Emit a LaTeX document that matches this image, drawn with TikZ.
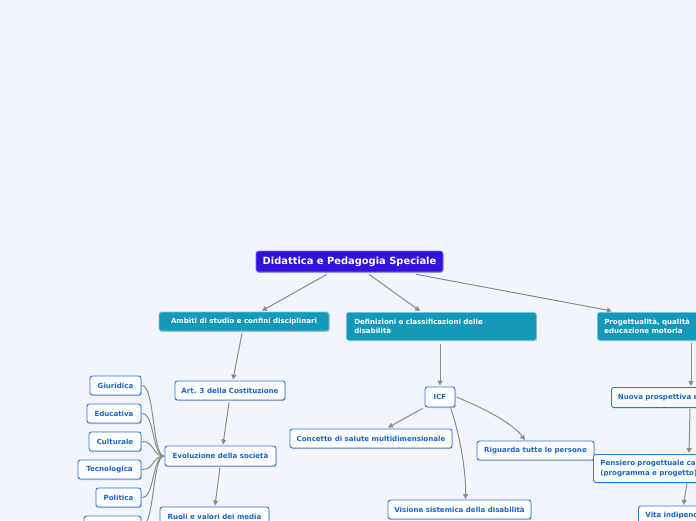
\documentclass[tikz,border=0pt]{standalone}
\usepackage{fontspec}
\setmainfont{DejaVu Sans}
\usetikzlibrary{arrows.meta,shadows,calc}
\definecolor{bgc}{HTML}{F3F5FD}
\definecolor{rootc}{HTML}{3411DC}
\definecolor{tealc}{HTML}{1499BA}
\definecolor{nbord}{HTML}{2479DE}
\definecolor{ntext}{HTML}{1666CF}
\definecolor{lnc}{HTML}{8C8C8C}
\begin{document}
\begin{tikzpicture}[x=1pt,y=-1pt,
  base/.style={rounded corners=2.5pt, inner sep=0pt,
    font=\bfseries\fontsize{7.05}{9.3}\selectfont,
    drop shadow={shadow xshift=0.6pt, shadow yshift=-1pt, opacity=0.22, fill=black}},
  leaf/.style={base, draw=nbord, line width=0.9pt, fill=white, text=ntext},
  topic/.style={base, draw=tealc!55!white, line width=0.6pt, fill=tealc, text=white},
  rootbox/.style={base, draw=rootc!60!white, line width=0.6pt, fill=rootc, text=white,
    font=\bfseries\fontsize{9.9}{11}\selectfont},
  conn/.style={draw=lnc, line width=1pt, -{Triangle[length=5pt,width=5pt]}},
  link/.style={draw=lnc, line width=1pt}
]
\fill[bgc] (0,0) rectangle (696,520);
\useasboundingbox (0,0) rectangle (696,520);

% root and topics
\node[rootbox, minimum width=187pt, minimum height=21pt] (root) at (349.5,261.5) {Didattica e Pedagogia Speciale};
\node[topic, minimum width=170pt, minimum height=19pt] (amb) at (244,321.5) {Ambiti di studio e confini disciplinari};
\node[topic, anchor=north west, minimum height=28pt, inner xsep=8pt, text width=174pt, align=left] (def) at (346,312) {Definizioni e classificazioni delle\\disabilità};
\node[topic, anchor=north west, minimum height=28pt, inner xsep=7pt, text width=190pt, align=left] (prog) at (597,312) {Progettualità, qualità\\educazione motoria};

% left branch
\node[leaf, minimum width=110pt, minimum height=19pt] (art) at (230,390.5) {Art. 3 della Costituzione};
\node[leaf, minimum width=111pt, minimum height=20pt] (evol) at (220.5,456) {Evoluzione della società};
\node[leaf, minimum width=109pt, minimum height=20pt] (ruoli) at (214.5,517) {Ruoli e valori dei media};
\node[leaf, minimum width=51pt, minimum height=19pt] (giur) at (115.5,385.5) {Giuridica};
\node[leaf, minimum width=54pt, minimum height=19pt] (educ) at (114,413.5) {Educativa};
\node[leaf, minimum width=52pt, minimum height=19pt] (cult) at (115,441.5) {Culturale};
\node[leaf, minimum width=63pt, minimum height=19pt] (tecn) at (109.5,469.5) {Tecnologica};
\node[leaf, minimum width=45pt, minimum height=19pt] (polit) at (118.5,497.5) {Politica};
\node[leaf, minimum width=57pt, minimum height=19pt] (sixth) at (112.5,525.5) {};

% middle branch
\node[leaf, minimum width=30pt, minimum height=20pt] (icf) at (440,397) {ICF};
\node[leaf, minimum width=162pt, minimum height=19pt] (conc) at (371,438.5) {Concetto di salute multidimensionale};
\node[leaf, minimum width=117pt, minimum height=19pt] (rig) at (535.5,450.5) {Riguarda tutte le persone};
\node[leaf, minimum width=143pt, minimum height=19pt] (vis) at (459.5,509.5) {Visione sistemica della disabilità};

% right branch
\node[leaf, anchor=north west, minimum height=20pt, inner xsep=6.5pt, text width=180pt, align=left] (nuova) at (611,387) {Nuova prospettiva e};
\node[leaf, anchor=north west, minimum height=28pt, inner xsep=7pt, text width=180pt, align=left] (pens) at (593,454) {Pensiero progettuale ca\\(programma e progetto)};
\node[leaf, anchor=north west, minimum height=20pt, inner xsep=7pt, text width=180pt, align=left] (vita) at (638,505.5) {Vita indipend};

% connectors
\draw[conn] ($(root.south)+(-22.5,2)$) -- ($(amb.north)+(18,-1)$);
\draw[conn] ($(root.south)+(19.5,2)$) -- ($(def.north west)+(74,-1)$);
\draw[conn] ($(root.south)+(66.5,2)$) -- ($(prog.north west)+(15,-1)$);
\draw[conn] ($(amb.south)+(-2,2)$) -- ($(art.north)+(3,-1)$);
\draw[conn] ($(art.south)+(-1,2)$) -- ($(evol.north)+(2.5,-1)$);
\draw[conn] ($(evol.south)+(-0.5,1)$) -- ($(ruoli.north)+(0.5,-1)$);
\draw[conn] ($(def.south west)+(94,3)$) -- ($(icf.north)+(0,-1)$);
\draw[conn] ($(icf.south west)+(-2,1)$) -- ($(conc.north)+(17,-1)$);
\draw[conn] ($(icf.east)+(1,0)$) .. controls (488,410) and (513,424) .. ($(rig.north)+(-10.5,-0.5)$);
\draw[conn] ($(icf.south)+(10.7,1)$) .. controls (459,432) and (466,468) .. ($(vis.north)+(6,-0.5)$);
\draw[conn] ($(prog.south west)+(94,2)$) -- ($(nuova.north west)+(80,-1)$);
\draw[conn] ($(nuova.south west)+(79,1)$) -- ($(pens.north west)+(96,-1)$);
\draw[conn] ($(pens.south west)+(94,0.5)$) -- ($(vita.north west)+(45.5,-0.5)$);

\foreach \n in {giur,educ,cult,tecn,polit,sixth}{
  \draw[link] ($(\n.east)+(0.5,0)$) .. controls +(13,0) and +(-12,0) .. ($(evol.west)+(-0.5,0)$);
}
\end{tikzpicture}
\end{document}
